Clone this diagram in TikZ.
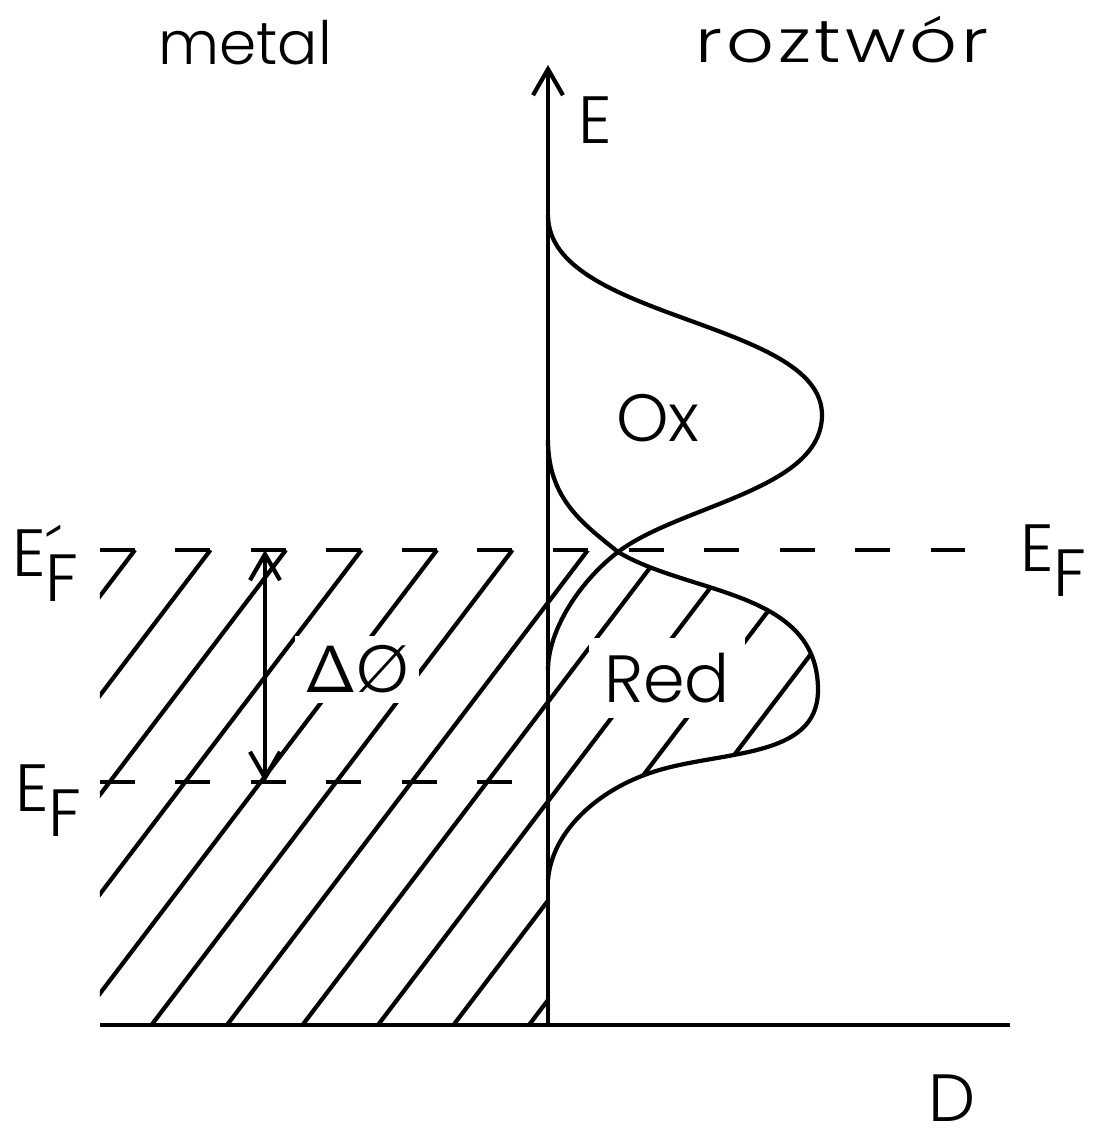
\documentclass[tikz,border=0pt]{standalone}
\usepackage{fontspec}
\setmainfont{Poppins}[UprightFont=* Light]
\usetikzlibrary{arrows.meta}
\newcommand{\ef}{E\raisebox{-.25cm}{F}}
\newcommand{\efp}{E\rlap{´}\raisebox{-.25cm}{F}}
\begin{document}
\begin{tikzpicture}[x=1cm,y=1cm,line width=1.2pt,>={Straight Barb[length=2.6mm,width=3mm]},
  word/.style={inner sep=0pt,font=\fontsize{17}{20}\selectfont},
  lbl/.style={inner sep=0pt,font=\fontsize{19}{22}\selectfont},
  level/.style={dash pattern=on 3.5mm off 4.05mm}]
\path[use as bounding box] (-5.48,-1.04) rectangle (5.70,10.25);
\coordinate (O) at (0,0);
\coordinate (Et) at (0,9.60);
\coordinate (Dl) at (-4.48,0);
\coordinate (Dr) at (4.62,0);
\coordinate (X) at (.70,4.73);
\coordinate (Fa) at (-4.48,4.75);
\coordinate (Fb) at (4.17,4.75);
\coordinate (Ga) at (-4.48,2.43);
\coordinate (Gb) at (-.33,2.43);
\coordinate (Pa) at (-2.83,4.75);
\coordinate (Pb) at (-2.83,2.43);
\begin{scope}
\clip (-4.48,0) rectangle (0,4.75)
  (0,4.75) -- (X) .. controls (1.42,4.30) and (2.70,4.35) .. (2.70,3.35)
  .. controls (2.70,2.65) and (1.72,2.75) .. (1.05,2.53)
  .. controls (.52,2.36) and (.04,1.95) .. (0,1.45) -- cycle;
\foreach \k in {0,...,10}
  \draw ({-4.13+.755*\k},4.75) -- ++(-3.61,-4.75);
\end{scope}
\node[lbl,fill=white,inner sep=1mm] (dphi) at (-1.91,3.32) [anchor=base] {{\sffamily Δ}Ø};
\node[lbl,fill=white,inner sep=1.5mm] (red) at (1.19,3.47) {Red};
\draw (Dl) -- (Dr);
\draw[->] (O) -- (Et);
\draw[level] (Fa) -- (Fb);
\draw[level] (Ga) -- (Gb);
\draw[<->] (Pa) -- (Pb);
\draw (0,8.10) .. controls (0,7.05) and (2.74,7.05) .. (2.74,6.10)
  .. controls (2.74,5.35) and (1.32,5.20) .. (X)
  .. controls (.32,4.44) and (0,3.95) .. (0,3.55);
\draw (0,5.85) .. controls (0,5.25) and (.37,5.00) .. (X)
  .. controls (1.42,4.30) and (2.70,4.35) .. (2.70,3.35)
  .. controls (2.70,2.65) and (1.72,2.75) .. (1.05,2.53)
  .. controls (.52,2.36) and (.04,1.95) .. (0,1.45);
\node[word,anchor=base] (metal) at (-3.03,9.60) {metal};
\node[word,anchor=base,xscale=1.25,transform shape] (sol) at (2.94,9.62) {\addfontfeature{LetterSpace=5}roztwór};
\node[lbl] (E) at (.47,9.05) {E};
\node[lbl] (ox) at (1.10,6.07) {Ox};
\node[lbl,anchor=base] (D) at (4.04,-.96) {D};
\node[lbl,anchor=base west] (efp) at (-5.38,4.48) {\efp};
\node[lbl,anchor=base west] (ef) at (-5.35,2.13) {\ef};
\node[lbl,anchor=base west] (efr) at (4.70,4.53) {\ef};
\end{tikzpicture}
\end{document}
